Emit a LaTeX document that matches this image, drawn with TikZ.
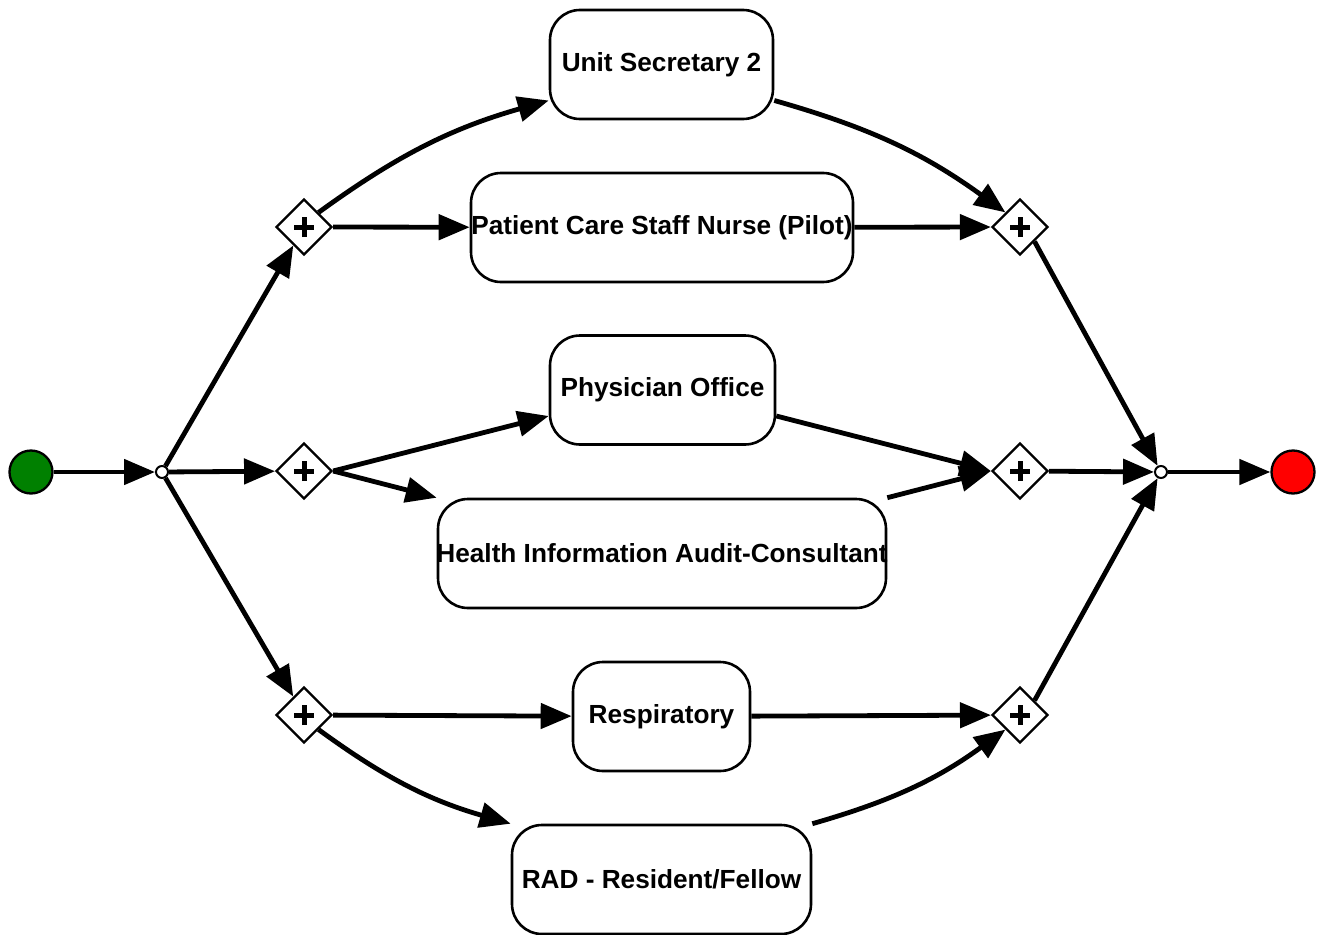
\documentclass[tikz,border=0pt]{standalone}
\usepackage{fontspec}
\setmainfont{Liberation Sans}
\usetikzlibrary{shapes.geometric,arrows.meta}
\newcommand{\tasktext}[1]{\makebox[0pt][c]{#1}}
\begin{document}
\begin{tikzpicture}[x=1pt,y=-1pt,
  task/.style={draw,line width=2.6pt,rounded corners=30pt,minimum height=109pt,inner sep=0pt,font=\fontsize{26.2}{30}\selectfont\bfseries},
  gate/.style={draw,diamond,line width=2.3pt,minimum width=56pt,minimum height=56pt,inner sep=0pt,fill=white,
    path picture={\draw[line width=5pt] ([xshift=-10pt]path picture bounding box.center) -- ([xshift=10pt]path picture bounding box.center);
                  \draw[line width=5pt] ([yshift=-10pt]path picture bounding box.center) -- ([yshift=10pt]path picture bounding box.center);}},
  small/.style={draw,circle,line width=2pt,minimum size=12pt,inner sep=0pt,fill=white},
  ev/.style={draw,circle,line width=2.3pt,minimum size=43pt,inner sep=0pt},
  arr/.style={line width=4.8pt,-{Triangle[length=31pt,width=25pt]}}]
\useasboundingbox (0,0) rectangle (1319,934);
\node[ev,fill=green!50!black] (st) at (31,472) {};
\node[ev,fill=red] (en) at (1293,472) {};
\node[small] (sp) at (162,472) {};
\node[small] (jn) at (1161,472) {};
\node[gate] (G1) at (304,227) {};
\node[gate] (G2) at (304,471) {};
\node[gate] (G3) at (304,715) {};
\node[gate] (J1) at (1020,227) {};
\node[gate] (J2) at (1020,471) {};
\node[gate] (J3) at (1020,715) {};
\node[task,minimum width=223pt] (US) at (661.5,64.5) {\tasktext{Unit Secretary 2}};
\node[task,minimum width=382pt] (PC) at (662,227.5) {\tasktext{Patient Care Staff Nurse (Pilot)}};
\node[task,minimum width=225pt] (PO) at (662.5,390) {\tasktext{Physician Office}};
\node[task,minimum width=448pt] (HI) at (662,553.5) {\tasktext{Health Information Audit-Consultant}};
\node[task,minimum width=177pt] (RE) at (661.5,716.5) {\tasktext{Respiratory}};
\node[task,minimum width=299pt] (RD) at (661.5,879.5) {\tasktext{RAD - Resident/Fellow}};
\draw[arr] (st) -- (sp);
\draw[arr] (sp) -- (G1);
\draw[arr] (sp) -- (G2);
\draw[arr] (sp) -- (G3);
\draw[arr] (G1.north east) to[bend left=10] ([yshift=-36pt]US.west);
\draw[arr] (G1) -- (PC);
\draw[arr] ([yshift=-36pt]US.east) to[bend left=10] (J1.north west);
\draw[arr] (PC) -- (J1);
\draw[arr] (G2.east) -- ([yshift=-26pt]PO.west);
\draw[arr] (G2.east) -- (HI.north west);
\draw[arr] ([yshift=-26pt]PO.east) -- (J2.west);
\draw[arr] (HI.north east) -- (J2.west);
\draw[arr] (G3) -- (RE);
\draw[arr] (G3.south east) to[bend right=10] (RD.north west);
\draw[arr] (RE) -- (J3);
\draw[arr] (RD.north east) to[bend right=10] (J3.south west);
\draw[arr] (J1.south east) -- (jn);
\draw[arr] (J2) -- (jn);
\draw[arr] (J3.north east) -- (jn);
\draw[arr] (jn) -- (en);
\end{tikzpicture}
\end{document}
